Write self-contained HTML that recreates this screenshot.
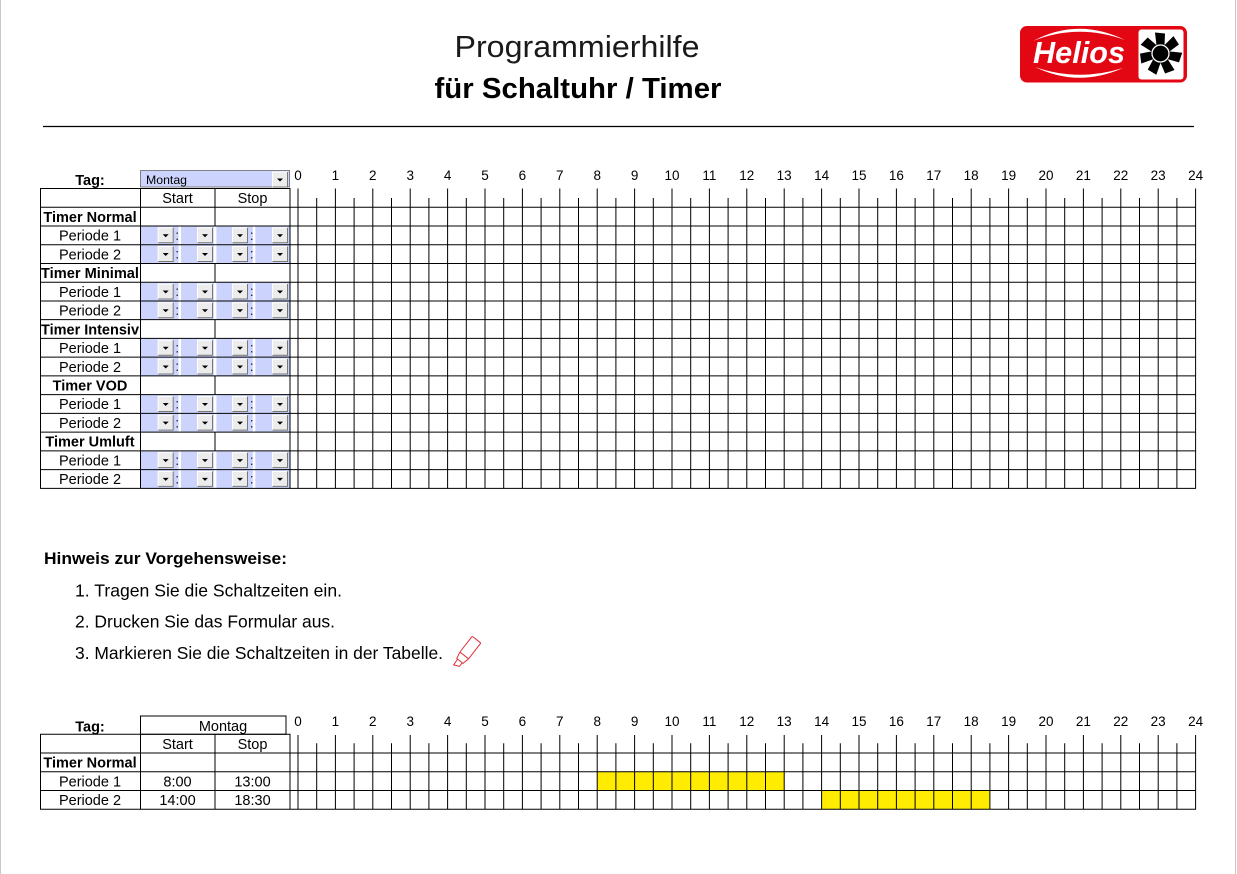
<!DOCTYPE html>
<html><head><meta charset="utf-8"><style>html,body{margin:0;padding:0;background:#fff}svg{display:block}</style></head>
<body>
<svg width="1237" height="874" viewBox="0 0 1237 874" xmlns="http://www.w3.org/2000/svg" font-family="'Liberation Sans', Arial, sans-serif">
<defs>
<g id="b"><rect x="0" y="0" width="16" height="16" fill="#ececec"/><path d="M0.5,15.5 V0.5 H15.5" fill="none" stroke="#fff"/><path d="M0.5,15.5 H15.5 V0.5" fill="none" stroke="#777"/><path d="M5,7 h6 l-3,3 z" fill="#000"/></g>
<g id="pr">
<rect x="140.5" y="0.4" width="149" height="18" fill="#ccd4fd"/>
<rect x="178.5" y="0.4" width="2.5" height="18" fill="#fff"/>
<rect x="213.8" y="0.4" width="2.6" height="18" fill="#fff"/>
<rect x="252.8" y="0.4" width="2.5" height="18" fill="#fff"/>
<use href="#b" x="157.7" y="1.3"/><use href="#b" x="197" y="1.3"/><use href="#b" x="232" y="1.3"/><use href="#b" x="272" y="1.3"/>
<text x="175.3" y="14" font-size="14" fill="#223">:</text><text x="249.8" y="14" font-size="14" fill="#223">:</text>
</g>
<path id="bl" d="M0,-8 L-4,-8 L-5.5,-21 L4.5,-20 L4,-8 Z"/>
</defs>
<rect width="1237" height="874" fill="#fff"/>
<line x1="0.5" y1="0" x2="0.5" y2="874" stroke="#c8c8c8"/>
<line x1="1235.5" y1="0" x2="1235.5" y2="874" stroke="#c8c8c8"/>

<!-- Title -->
<text x="577" y="57" font-size="31" text-anchor="middle" fill="#1a1a1a" textLength="245" lengthAdjust="spacingAndGlyphs">Programmierhilfe</text>
<text x="578" y="98" font-size="29" font-weight="bold" text-anchor="middle" fill="#000" textLength="287" lengthAdjust="spacingAndGlyphs">für Schaltuhr / Timer</text>
<line x1="43" y1="126.5" x2="1194" y2="126.5" stroke="#000" stroke-width="1.2"/>

<!-- Logo -->
<rect x="1020" y="26" width="167" height="56.5" rx="7" fill="#e30613"/>
<rect x="1138.5" y="29.5" width="45" height="50" rx="3" fill="#fff"/>
<path d="M1033,41 Q1078,17 1125,40 Q1078,23 1033,41 Z" fill="#fff"/>
<path d="M1035,67 Q1078,88 1123,68 Q1078,82 1035,67 Z" fill="#fff"/>
<text x="1033" y="63" font-size="31" font-weight="bold" font-style="italic" fill="#fff" textLength="92" lengthAdjust="spacingAndGlyphs">Helios</text>
<g transform="translate(1160.5,53.5)" fill="#000">
<use href="#bl" transform="rotate(0)"/><use href="#bl" transform="rotate(51.4)"/><use href="#bl" transform="rotate(102.8)"/><use href="#bl" transform="rotate(154.3)"/><use href="#bl" transform="rotate(205.7)"/><use href="#bl" transform="rotate(257.1)"/><use href="#bl" transform="rotate(308.6)"/>
<circle r="8.5" fill="#000" stroke="#fff" stroke-width="1.3"/>
</g>

<!-- TOP TABLE -->
<text x="90" y="185" font-size="14.5" font-weight="bold" text-anchor="middle">Tag:</text>
<rect x="140.5" y="170.5" width="149" height="16.5" fill="#ccd4fd" stroke="#666" stroke-width="0.8"/>
<text x="146" y="184" font-size="12.3" fill="#000">Montag</text>
<use href="#b" x="272" y="171.5"/>

<g font-size="13.5" text-anchor="middle">
<text x="298" y="180">0</text><text x="335.4" y="180">1</text><text x="372.8" y="180">2</text><text x="410.2" y="180">3</text><text x="447.6" y="180">4</text><text x="485" y="180">5</text><text x="522.4" y="180">6</text><text x="559.8" y="180">7</text><text x="597.2" y="180">8</text><text x="634.6" y="180">9</text><text x="672" y="180">10</text><text x="709.4" y="180">11</text><text x="746.8" y="180">12</text><text x="784.2" y="180">13</text><text x="821.6" y="180">14</text><text x="859" y="180">15</text><text x="896.4" y="180">16</text><text x="933.8" y="180">17</text><text x="971.2" y="180">18</text><text x="1008.6" y="180">19</text><text x="1046" y="180">20</text><text x="1083.4" y="180">21</text><text x="1120.8" y="180">22</text><text x="1158.2" y="180">23</text><text x="1195.6" y="180">24</text>
</g>

<!-- blue period rows -->
<use href="#pr" y="225.98"/><use href="#pr" y="244.72"/>
<use href="#pr" y="282.2"/><use href="#pr" y="300.94"/>
<use href="#pr" y="338.42"/><use href="#pr" y="357.16"/>
<use href="#pr" y="394.64"/><use href="#pr" y="413.38"/>
<use href="#pr" y="450.86"/><use href="#pr" y="469.6"/>

<!-- grid verticals -->
<line x1="297.5" y1="338.5" x2="1197" y2="338.5" stroke="#000" stroke-width="300" stroke-dasharray="1 36.4"/>
<line x1="316.2" y1="343.2" x2="1178" y2="343.2" stroke="#000" stroke-width="290.3" stroke-dasharray="1 36.4"/>
<!-- table verticals -->
<g stroke="#000" stroke-width="1">
<line x1="40.5" y1="188.5" x2="40.5" y2="488.4"/>
<line x1="140.5" y1="188.5" x2="140.5" y2="488.4"/>
<line x1="215" y1="188.5" x2="215" y2="225.98"/>
<line x1="215" y1="263.46" x2="215" y2="282.2"/>
<line x1="215" y1="319.68" x2="215" y2="338.42"/>
<line x1="215" y1="375.9" x2="215" y2="394.64"/>
<line x1="215" y1="432.12" x2="215" y2="450.86"/>
<line x1="290" y1="188.5" x2="290" y2="488.4"/>
<line x1="40" y1="188.5" x2="290.5" y2="188.5"/>
<line x1="40" y1="207.24" x2="1196" y2="207.24"/>
<line x1="40" y1="225.98" x2="1196" y2="225.98"/>
<line x1="40" y1="244.72" x2="1196" y2="244.72"/>
<line x1="40" y1="263.46" x2="1196" y2="263.46"/>
<line x1="40" y1="282.2" x2="1196" y2="282.2"/>
<line x1="40" y1="300.94" x2="1196" y2="300.94"/>
<line x1="40" y1="319.68" x2="1196" y2="319.68"/>
<line x1="40" y1="338.42" x2="1196" y2="338.42"/>
<line x1="40" y1="357.16" x2="1196" y2="357.16"/>
<line x1="40" y1="375.9" x2="1196" y2="375.9"/>
<line x1="40" y1="394.64" x2="1196" y2="394.64"/>
<line x1="40" y1="413.38" x2="1196" y2="413.38"/>
<line x1="40" y1="432.12" x2="1196" y2="432.12"/>
<line x1="40" y1="450.86" x2="1196" y2="450.86"/>
<line x1="40" y1="469.6" x2="1196" y2="469.6"/>
<line x1="40" y1="488.34" x2="1196" y2="488.34"/>
</g>

<g font-size="14.5" text-anchor="middle">
<text x="177.5" y="203.1">Start</text><text x="252.5" y="203.1">Stop</text>
<text x="90" y="221.8" font-weight="bold">Timer Normal</text>
<text x="90" y="240.6">Periode 1</text><text x="90" y="259.3">Periode 2</text>
<text x="90" y="278.1" font-weight="bold" textLength="98" lengthAdjust="spacingAndGlyphs">Timer Minimal</text>
<text x="90" y="296.8">Periode 1</text><text x="90" y="315.5">Periode 2</text>
<text x="90" y="334.3" font-weight="bold" textLength="98" lengthAdjust="spacingAndGlyphs">Timer Intensiv</text>
<text x="90" y="353">Periode 1</text><text x="90" y="371.8">Periode 2</text>
<text x="90" y="390.5" font-weight="bold">Timer VOD</text>
<text x="90" y="409.2">Periode 1</text><text x="90" y="428">Periode 2</text>
<text x="90" y="446.7" font-weight="bold">Timer Umluft</text>
<text x="90" y="465.5">Periode 1</text><text x="90" y="484.2">Periode 2</text>
</g>

<!-- Hinweis -->
<text x="44" y="564" font-size="17" font-weight="bold" textLength="243" lengthAdjust="spacingAndGlyphs">Hinweis zur Vorgehensweise:</text>
<text x="75" y="596.5" font-size="17.5" textLength="267" lengthAdjust="spacingAndGlyphs">1. Tragen Sie die Schaltzeiten ein.</text>
<text x="75" y="627.5" font-size="17.5" textLength="260" lengthAdjust="spacingAndGlyphs">2. Drucken Sie das Formular aus.</text>
<text x="75" y="659" font-size="17.5" textLength="368" lengthAdjust="spacingAndGlyphs">3. Markieren Sie die Schaltzeiten in der Tabelle.</text>
<g transform="translate(463,657) rotate(38)" fill="none" stroke="#e0303a" stroke-width="1">
<rect x="-5.5" y="-22" width="11" height="20" rx="1"/>
<path d="M-5.5,-2 L-4,5 L4,5 L5.5,-2"/>
<path d="M-3,5 L-2.5,12 L3,9.5 L3,5"/>
</g>

<!-- BOTTOM TABLE -->
<text x="90" y="731.5" font-size="14.5" font-weight="bold" text-anchor="middle">Tag:</text>
<rect x="140.5" y="716" width="145.5" height="18.3" fill="none" stroke="#000"/>
<text x="223" y="731" font-size="14.5" text-anchor="middle">Montag</text>
<g font-size="13.5" text-anchor="middle">
<text x="298" y="726">0</text><text x="335.4" y="726">1</text><text x="372.8" y="726">2</text><text x="410.2" y="726">3</text><text x="447.6" y="726">4</text><text x="485" y="726">5</text><text x="522.4" y="726">6</text><text x="559.8" y="726">7</text><text x="597.2" y="726">8</text><text x="634.6" y="726">9</text><text x="672" y="726">10</text><text x="709.4" y="726">11</text><text x="746.8" y="726">12</text><text x="784.2" y="726">13</text><text x="821.6" y="726">14</text><text x="859" y="726">15</text><text x="896.4" y="726">16</text><text x="933.8" y="726">17</text><text x="971.2" y="726">18</text><text x="1008.6" y="726">19</text><text x="1046" y="726">20</text><text x="1083.4" y="726">21</text><text x="1120.8" y="726">22</text><text x="1158.2" y="726">23</text><text x="1195.6" y="726">24</text>
</g>
<rect x="597.2" y="771.7" width="187" height="18.8" fill="#ffec00"/>
<rect x="821.6" y="790.5" width="168.3" height="18.8" fill="#ffec00"/>
<line x1="297.5" y1="772.15" x2="1197" y2="772.15" stroke="#000" stroke-width="74.3" stroke-dasharray="1 36.4"/>
<line x1="316.2" y1="776.3" x2="1178" y2="776.3" stroke="#000" stroke-width="66" stroke-dasharray="1 36.4"/>
<g stroke="#000" stroke-width="1">
<line x1="40.5" y1="734.3" x2="40.5" y2="809.4"/>
<line x1="140.5" y1="734.3" x2="140.5" y2="809.4"/>
<line x1="215" y1="734.3" x2="215" y2="809.4"/>
<line x1="290" y1="734.3" x2="290" y2="809.4"/>
<line x1="40" y1="734.3" x2="290.5" y2="734.3"/>
<line x1="40" y1="753" x2="1196" y2="753"/>
<line x1="40" y1="771.7" x2="1196" y2="771.7"/>
<line x1="40" y1="790.5" x2="1196" y2="790.5"/>
<line x1="40" y1="809.3" x2="1196" y2="809.3"/>
</g>
<g font-size="14.5" text-anchor="middle">
<text x="177.5" y="749">Start</text><text x="252.5" y="749">Stop</text>
<text x="90" y="767.6" font-weight="bold">Timer Normal</text>
<text x="90" y="786.3">Periode 1</text><text x="177.5" y="786.3">8:00</text><text x="252.5" y="786.3">13:00</text>
<text x="90" y="805.1">Periode 2</text><text x="177.5" y="805.1">14:00</text><text x="252.5" y="805.1">18:30</text>
</g>
</svg>
</body></html>
